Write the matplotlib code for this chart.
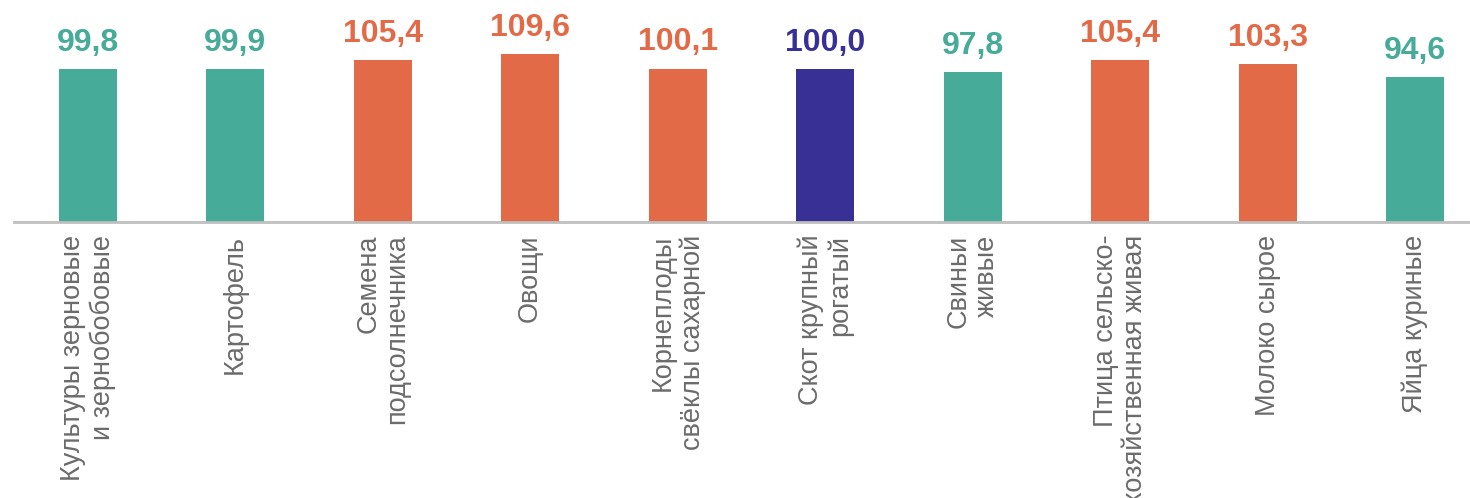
import matplotlib
matplotlib.use("Agg")
import matplotlib.pyplot as plt

plt.rcParams['font.family'] = ['Liberation Sans', 'DejaVu Sans']

# data
categories = [
    'Культуры зерновые\nи зернобобовые',
    'Картофель',
    'Семена\nподсолнечника',
    'Овощи',
    'Корнеплоды\nсвёклы сахарной',
    'Скот крупный\nрогатый',
    'Свиньи\nживые',
    'Птица сельско-\nхозяйственная живая',
    'Молоко сырое',
    'Яйца куриные',
]
values = [99.8, 99.9, 105.4, 109.6, 100.1, 100.0, 97.8, 105.4, 103.3, 94.6]
value_labels = ['99,8', '99,9', '105,4', '109,6', '100,1', '100,0', '97,8', '105,4', '103,3', '94,6']

TEAL = '#46AB98'
ORANGE = '#E36A47'
NAVY = '#383095'

def bar_color(v):
    if v > 100:
        return ORANGE
    if v < 100:
        return TEAL
    return NAVY

colors = [bar_color(v) for v in values]

fig = plt.figure(figsize=(14.7, 4.98), dpi=100)
# axes extends a little past the right edge, as in the original
ax = fig.add_axes([14 / 1470, 276 / 498, 1475 / 1470, 222 / 498])

x = list(range(len(values)))
ax.bar(x, values, width=0.39, color=colors, zorder=2)

for xi, v, lab, c in zip(x, values, value_labels, colors):
    ax.annotate(lab, (xi, v), xytext=(0, 13), textcoords='offset points',
                ha='center', va='baseline', fontsize=23, fontweight='bold', color=c)

ax.set_xlim(-0.5, len(values) - 0.5)
ax.set_ylim(0, 144.8)

ax.set_xticks(x)
ax.set_xticklabels(categories, rotation=90, ha='center', va='top',
                   multialignment='right', fontsize=19.5, color='#6B6B6B',
                   linespacing=1.15)
ax.tick_params(axis='x', length=0, pad=9)
ax.set_yticks([])

for side in ['top', 'right', 'left']:
    ax.spines[side].set_visible(False)
ax.spines['bottom'].set_color('#BFBFBF')
ax.spines['bottom'].set_linewidth(2)
ax.spines['bottom'].set_zorder(3)

fig.savefig('out.png', dpi=100)
